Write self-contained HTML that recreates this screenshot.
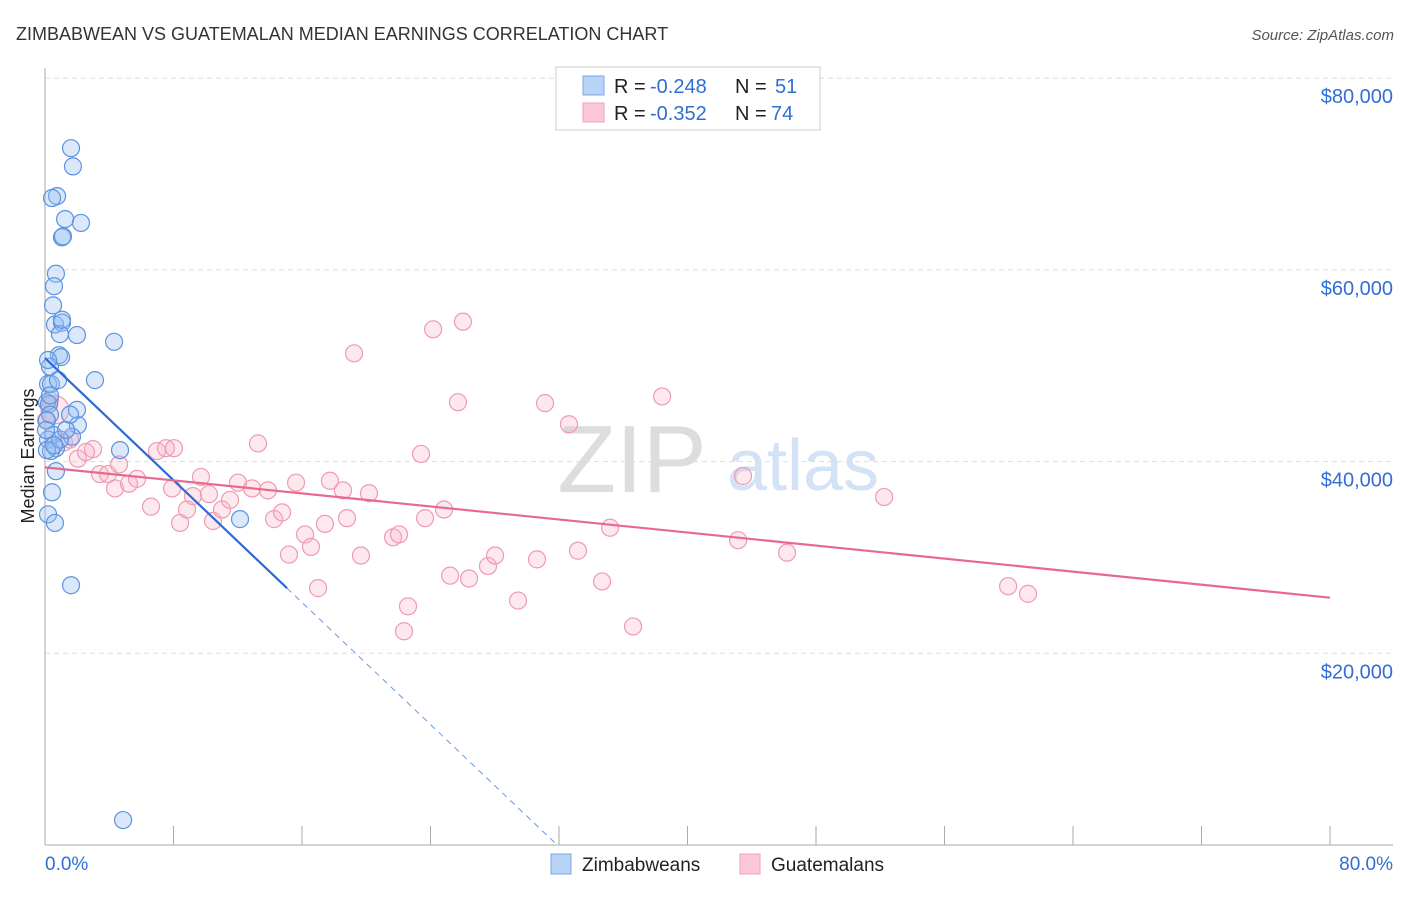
<!DOCTYPE html>
<html><head><meta charset="utf-8"><style>
body{margin:0;background:#fff;font-family:"Liberation Sans",sans-serif}
svg text{font-family:"Liberation Sans",sans-serif}
</style></head><body>
<svg id="c" width="1406" height="892">
<text x="16" y="40" font-size="18" fill="#333">ZIMBABWEAN VS GUATEMALAN MEDIAN EARNINGS CORRELATION CHART</text>
<text x="1394" y="40" font-size="15" fill="#555" font-style="italic" text-anchor="end">Source: ZipAtlas.com</text>
<text x="34" y="456" font-size="18" fill="#222" text-anchor="middle" transform="rotate(-90 34 456)">Median Earnings</text>
<g><text x="632" y="492" font-size="96" fill="#ddd" font-family="Liberation Serif" text-anchor="middle">ZIP</text><text x="803" y="490" font-size="72" fill="#d4e2f6" text-anchor="middle">atlas</text></g>
<g id="grid"></g><g id="marks"></g>
<g>
<rect x="556" y="67" width="264" height="63" fill="#fff" stroke="#ccc"/>
<rect x="583" y="76" width="21" height="19" fill="#b8d3f5" stroke="#7aa8e8"/>
<rect x="583" y="103" width="21" height="19" fill="#fac8d6" stroke="#f0a0b8"/>
<text x="614" y="93" font-size="20" fill="#222">R =</text><text x="650" y="93" font-size="20" fill="#2f6fd4">-0.248</text>
<text x="735" y="93" font-size="20" fill="#222">N =</text><text x="775" y="93" font-size="20" fill="#2f6fd4">51</text>
<text x="614" y="120" font-size="20" fill="#222">R =</text><text x="650" y="120" font-size="20" fill="#2f6fd4">-0.352</text>
<text x="735" y="120" font-size="20" fill="#222">N =</text><text x="771" y="120" font-size="20" fill="#2f6fd4">74</text>
</g>
<g>
<rect x="551" y="854" width="20" height="20" fill="#b8d3f5" stroke="#7aa8e8"/>
<text x="582" y="871" font-size="19" fill="#222">Zimbabweans</text>
<rect x="740" y="854" width="20" height="20" fill="#fac8d6" stroke="#f0a0b8"/>
<text x="771" y="871" font-size="19" fill="#222">Guatemalans</text>
</g>
</svg>
<script>
const yTicks=[20000,40000,60000,80000];
const yTickLabels=["$20,000","$40,000","$60,000","$80,000"];
const xTicks=[0,8,16,24,32,40,48,56,64,72,80];
const blueX=[1.62,1.74,0.75,0.44,1.25,2.24,1.06,1.12,0.68,0.56,0.50,0.62,1.06,0.93,1.99,4.30,0.87,1.00,0.31,3.11,0.19,0.37,0.12,0.25,1.99,2.05,0.31,0.50,1.68,0.19,0.68,0.37,4.67,0.68,0.44,0.19,0.62,1.62,4.86,12.14,0.93,0.12,0.12,1.31,0.31,1.06,0.19,0.56,0.06,1.56,0.81];
const blueY=[72.7,70.8,67.7,67.5,65.3,64.9,63.4,63.5,59.6,58.3,56.3,54.3,54.5,53.3,53.2,52.5,51.1,50.9,49.9,48.5,48.1,48.1,46.2,46.0,45.4,43.8,44.9,42.8,42.6,42.3,41.4,41.1,41.2,39.0,36.8,34.5,33.6,27.1,2.6,34.0,42.3,41.2,44.3,43.3,46.9,54.8,50.6,41.7,43.3,44.9,48.5];
const pinkX=[0.62,1.18,2.99,2.05,2.55,3.42,3.92,4.61,4.36,5.23,5.73,6.60,6.97,7.53,8.03,7.91,8.41,8.84,9.21,9.71,10.21,10.46,11.02,11.52,12.02,12.89,13.26,13.88,14.26,14.76,15.19,15.63,16.19,16.56,17.00,17.43,17.74,18.55,18.80,19.24,19.67,20.17,21.67,22.04,22.35,22.60,23.41,23.66,24.16,24.84,25.22,25.71,26.02,26.40,27.58,28.02,29.45,30.63,31.13,32.62,33.18,34.68,35.18,36.61,38.42,43.15,43.46,46.20,52.24,59.96,61.20,0.31,0.06,1.56];
const pinkY=[45.4,42.0,41.3,40.3,41.0,38.7,38.7,39.7,37.2,37.7,38.2,35.3,41.1,41.4,41.4,37.2,33.6,35.0,36.4,38.4,36.6,33.8,35.0,36.0,37.8,37.2,41.9,37.0,34.0,34.7,30.3,37.8,32.4,31.1,26.8,33.5,38.0,37.0,34.1,51.3,30.2,36.7,32.1,32.4,22.3,24.9,40.8,34.1,53.8,35.0,28.1,46.2,54.6,27.8,29.1,30.2,25.5,29.8,46.1,43.9,30.7,27.5,33.1,22.8,46.8,31.8,38.5,30.5,36.3,27.0,26.2,46.4,44.3,42.3];
const blueFit=[50.8,-1.593];
const pinkFit=[39.4,-0.17];
const NS="http://www.w3.org/2000/svg";
const X=v=>45+v/80*1285, Y=v=>845-v/20*191.7;
function mk(t,a,p){const e=document.createElementNS(NS,t);for(const k in a)e.setAttribute(k,a[k]);p.appendChild(e);return e;}
const g=document.getElementById('grid'),m=document.getElementById('marks');
yTicks.forEach((t,i)=>{const y=Y(t/1000);
const l=mk('line',{x1:45,x2:1393,y1:y,y2:y,stroke:'#ddd','stroke-dasharray':'5,4'},g);

const tx=mk('text',{x:1393,y:y+25,'font-size':20,fill:'#2f6fd4','text-anchor':'end'},g);tx.textContent=yTickLabels[i];
});
const ax=mk('line',{x1:45,x2:45,y1:68,y2:845,stroke:'#aaa'},g);
const bx=mk('line',{x1:45,x2:1393,y1:845,y2:845,stroke:'#aaa'},g);
xTicks.forEach(t=>{const l=mk('line',{x1:X(t),x2:X(t),y1:826,y2:845,stroke:'#aaa'},g);});
const t0=mk('text',{x:45,y:870,'font-size':19,fill:'#2f6fd4'},g);t0.textContent='0.0%';
const t1=mk('text',{x:1393,y:870,'font-size':19,fill:'#2f6fd4','text-anchor':'end'},g);t1.textContent='80.0%';
pinkX.forEach((x,i)=>{const c=mk('circle',{cx:X(x),cy:Y(pinkY[i]),r:i==0?14:8.5,fill:'rgba(248,180,200,0.3)',stroke:'#ee9ab4','stroke-width':1.2},m);
});
blueX.forEach((x,i)=>{const c=mk('circle',{cx:X(x),cy:Y(blueY[i]),r:8.5,fill:'rgba(150,190,240,0.35)',stroke:'#5b93e0','stroke-width':1.2},m);
});
const bEnd=15.07, bZero=-blueFit[0]/blueFit[1];
const bl=mk('line',{x1:X(0),y1:Y(blueFit[0]),x2:X(bEnd),y2:Y(blueFit[0]+blueFit[1]*bEnd),stroke:'#2a6ad6','stroke-width':2.2},m);

const bd=mk('line',{x1:X(bEnd),y1:Y(blueFit[0]+blueFit[1]*bEnd),x2:X(bZero),y2:Y(0),stroke:'#6a98e0','stroke-width':1,'stroke-dasharray':'6,5'},m);

const pl=mk('line',{x1:X(0),y1:Y(pinkFit[0]),x2:X(80),y2:Y(pinkFit[0]+pinkFit[1]*80),stroke:'#e8688f','stroke-width':2.2},m);

</script>
</body></html>
